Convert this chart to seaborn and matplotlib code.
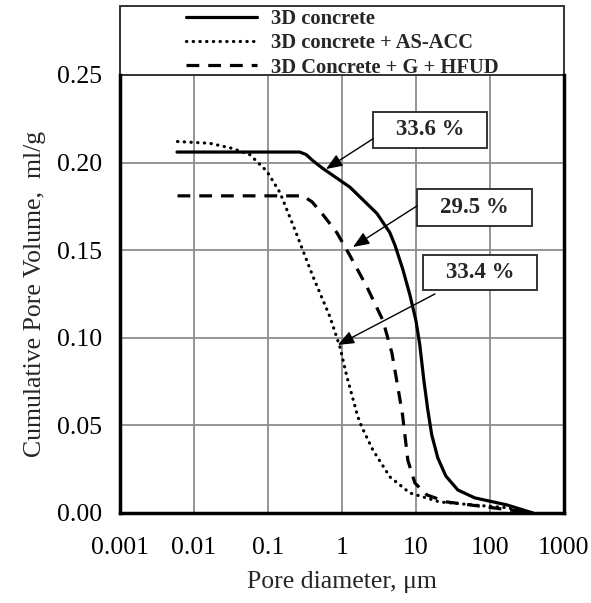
import numpy as np
import pandas as pd
import matplotlib
matplotlib.use("Agg")
import matplotlib.pyplot as plt
from matplotlib.patches import Rectangle
import seaborn as sns

# pore diameter (um) vs cumulative pore volume (ml/g)
d_plain = [0.0059, 0.27, 0.33, 0.394, 0.537, 1.28, 2.97, 4.45, 5.2, 6.67, 8.3, 10.0, 11.3, 12.8, 14.5,
           16.4, 19.8, 25.4, 37, 62.7, 170, 381]
v_plain = [0.206, 0.206, 0.2045, 0.2015, 0.197, 0.186, 0.171, 0.160, 0.153, 0.139, 0.1245, 0.110, 0.096, 0.076, 0.0588,
           0.0445, 0.0314, 0.0211, 0.0131, 0.0086, 0.0046, 0.0]

d_acc = [0.006, 0.0164, 0.0337, 0.057, 0.097, 0.145, 0.225, 0.406, 0.689, 0.94, 1.17, 1.64, 1.86, 2.62, 4.45, 8.3, 21, 59, 170, 381]
v_acc = [0.212, 0.211, 0.208, 0.2045, 0.195, 0.183, 0.163, 0.135, 0.112, 0.0948, 0.0777, 0.055, 0.049, 0.036, 0.0206, 0.0114, 0.0063, 0.0046, 0.003, 0.0]

d_hfud = [0.006, 0.297, 0.394, 0.537, 0.855, 1.28, 2.18, 3.58, 4.74, 5.7, 6.6, 7.8, 9.7, 14.1, 26, 91, 381]
v_hfud = [0.181, 0.181, 0.1776, 0.171, 0.160, 0.147, 0.129, 0.110, 0.0914, 0.072, 0.056, 0.030, 0.0171, 0.0103, 0.0063, 0.0034, 0.0]

labels = ["3D concrete", "3D concrete + AS-ACC", "3D Concrete + G + HFUD"]

# annotations: text, box corners (x0, x1, y0, y1), arrow start, arrow tip
notes = ["33.6 %", "29.5 %", "33.4 %"]
note_box = [(2.62, 91, 0.2084, 0.229), (10.3, 370, 0.1639, 0.185), (12.4, 431, 0.1273, 0.1473)]
note_from = [(2.62, 0.2135), (10.3, 0.1752), (18.1, 0.125)]
note_to = [(0.61, 0.1963), (1.41, 0.1518), (0.88, 0.0959)]

sns.set_style("white")
plt.rcParams['font.family'] = ['Liberation Serif', 'DejaVu Serif']

fig = plt.figure(figsize=(5.91, 6.03), dpi=100)
ax = fig.add_axes([0.203, 0.1493, 0.751, 0.7264])

df = pd.concat([
    pd.DataFrame({"d": d_plain, "v": v_plain, "s": labels[0]}),
    pd.DataFrame({"d": d_acc, "v": v_acc, "s": labels[1]}),
    pd.DataFrame({"d": d_hfud, "v": v_hfud, "s": labels[2]}),
])

styles = [dict(ls="-"), dict(ls=(0, (0.1, 2.0)), dash_capstyle="round"), dict(ls=(0, (4, 2.8)))]
for lab, st in zip(labels, styles):
    sub = df[df.s == lab]
    sns.lineplot(data=sub, x="d", y="v", ax=ax, color="black", lw=2.3, label=lab,
                 sort=False, estimator=None, **st)

ax.set_xscale("log")
ax.set_xlim(0.001, 1000)
ax.set_ylim(0, 0.25)
ax.set_xticks([0.001, 0.01, 0.1, 1, 10, 100, 1000])
ax.set_xticklabels(["0.001", "0.01", "0.1", "1", "10", "100", "1000"])
ax.set_yticks([0, 0.05, 0.10, 0.15, 0.20, 0.25])
ax.set_yticklabels(["0.00", "0.05", "0.10", "0.15", "0.20", "0.25"])
ax.minorticks_off()
ax.grid(True, color="#8c8c8c", lw=1.3)
ax.tick_params(axis="both", direction="out", length=8, width=2.2, labelsize=18.5, colors="black")
ax.tick_params(axis="x", pad=9)
ax.tick_params(axis="y", pad=5)

for side in ["left", "bottom", "right"]:
    ax.spines[side].set_color("black")
    ax.spines[side].set_linewidth(2.5)
ax.spines["top"].set_visible(False)

ax.set_xlabel("Pore diameter, μm", fontsize=18.5, labelpad=9)
ax.set_ylabel("Cumulative Pore Volume,  ml/g", fontsize=18.5, labelpad=8)

# legend box sitting above the plot area
ax.add_patch(Rectangle((0, 1), 1, 0.158, transform=ax.transAxes, fill=False,
                       ec="#333333", lw=1.4, clip_on=False))
leg = ax.legend(loc="center", bbox_to_anchor=(0.5, 1.072), frameon=False,
                prop={"weight": "bold", "size": 14.8}, handlelength=3.45,
                labelspacing=0.2, handletextpad=0.68, borderpad=0)

for txt, (x0, x1, y0, y1), p0, p1 in zip(notes, note_box, note_from, note_to):
    ax.add_patch(Rectangle((x0, y0), x1 - x0, y1 - y0, fc="white", ec="#333333", lw=1.4, zorder=5))
    ax.text(np.sqrt(x0 * x1), (y0 + y1) / 2, txt, ha="center", va="center", fontsize=16.5,
            fontweight="bold", zorder=6)
    ax.annotate("", xy=p1, xytext=p0,
                arrowprops=dict(arrowstyle="-|>,head_length=0.55,head_width=0.22", color="black",
                                lw=1.0, mutation_scale=18, shrinkA=0, shrinkB=0), zorder=6)

fig.savefig("out.png", dpi=100)
